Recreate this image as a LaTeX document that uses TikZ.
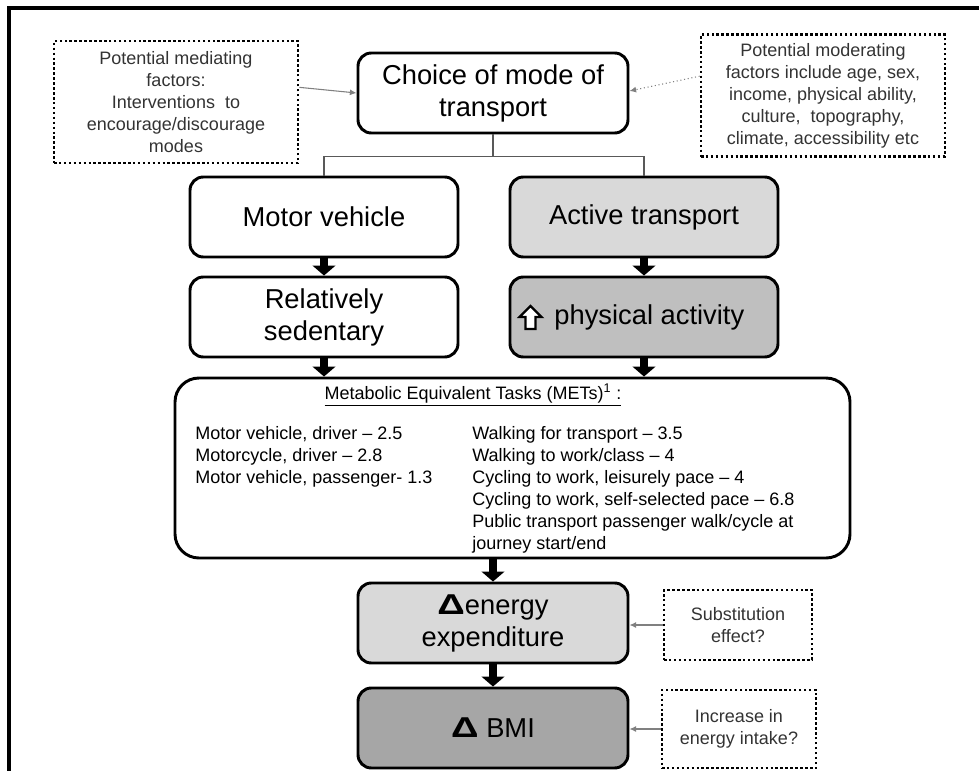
\documentclass[tikz,border=0pt]{standalone}
\usepackage{fontspec}
\setmainfont{Liberation Sans}
\usetikzlibrary{arrows.meta,calc}
\definecolor{lightgrey}{HTML}{D9D9D9}
\definecolor{midgrey}{HTML}{BFBFBF}
\definecolor{darkgrey}{HTML}{A6A6A6}
\definecolor{linegrey}{HTML}{595959}
\newcommand{\bigtext}{\fontsize{20.5}{24}\selectfont}
\newcommand{\smalltext}{\fontsize{13.5}{16.5}\selectfont}
\newcommand{\deltri}{\scalebox{1.4}[1.05]{\bfseries Δ}}

\begin{document}
\begin{tikzpicture}[x=0.75pt, y=-0.75pt,
    box/.style={draw, line width=2.2pt, rounded corners=10pt, minimum width=201pt,
      minimum height=60pt, align=center, font=\bigtext, inner sep=2pt},
    note/.style={draw, line width=2pt, dash pattern=on 1.9pt off 1.8pt,
      minimum width=183pt, minimum height=91.5pt, align=center, font=\smalltext,
      text=black!80, inner sep=2pt},
    flow/.style={line width=5.5pt, -{Triangle[width=17pt,length=7.5pt]}},
    hint/.style={draw=black!50, line width=0.8pt, -{Latex[length=5pt,width=4.5pt]}},
    branch/.style={draw=linegrey, line width=0.8pt}]
    \useasboundingbox (0,0) rectangle (979,771);

    % Cadre
    \draw[line width=2.5pt] (979,8) -- (9,8) -- (9,771);

    % Choix du mode
    \node[box, minimum width=202.5pt] (choice) at (493,93) {Choice of mode of\\transport};
    \node[note] (med) at (176,102) {Potential mediating\\factors:\\Interventions\ \ to\\encourage/discourage\\modes};
    \node[note] (mod) at (823,95.5) {Potential moderating\\factors include age, sex,\\income, physical ability,\\culture,\ \ topography,\\climate, accessibility etc};
    \draw[hint] ([yshift=11pt]med.east) -- (choice.west);
    \draw[hint, dotted] ([yshift=14.5pt]mod.west) -- ([yshift=1.5pt]choice.east);

    % Deux branches
    \node[box] (motor) at (324,217) {Motor vehicle};
    \node[box, fill=lightgrey] (active) at (644,217) {Active transport};
    \draw[branch] (choice.south) -- ++(0,22) -| (motor.north);
    \draw[branch] (choice.south) -- ++(0,22) -| (active.north);

    \node[box] (sed) at (324,317) {Relatively\\sedentary};
    \node[box, fill=midgrey] (phys) at (644,317) {\hspace*{8pt}physical activity};
    \coordinate (upicon) at ([xshift=16.5pt]phys.west);
    \draw[line width=1.7pt, fill=white, line join=miter] ($(upicon)+(-5,12)$) -- ++(0,-12)
      -- ++(-6,0) -- ++(11,-11) -- ++(11,11) -- ++(-6,0) -- ++(0,12) -- cycle;
    \draw[flow] (motor.south) -- (sed.north);
    \draw[flow] (active.south) -- (phys.north);

    % METs
    \node[box, minimum width=506.25pt, minimum height=135pt, rounded corners=18pt] (mets) at (512.5,468) {};
    \draw[flow] (sed.south) -- (sed.south |- mets.north);
    \draw[flow] (phys.south) -- (phys.south |- mets.north);
    \node[font=\smalltext] (metshead) at (473,395) {\underline{Metabolic Equivalent Tasks (METs)\textsuperscript{1} :}};
    \node[font=\smalltext, align=left, anchor=north west, inner sep=0pt] (metsleft) at (195,426)
      {Motor vehicle, driver – 2.5\\Motorcycle, driver – 2.8\\Motor vehicle, passenger- 1.3};
    \node[font=\smalltext, align=left, anchor=north west, inner sep=0pt] (metsright) at (472,426)
      {Walking for transport – 3.5\\Walking to work/class – 4\\Cycling to work, leisurely pace – 4\\Cycling to work, self-selected pace – 6.8\\Public transport passenger walk/cycle at\\journey start/end};

    % Energie et IMC
    \node[box, fill=lightgrey, minimum width=202.5pt] (energy) at (493,623) {\deltri energy\\expenditure};
    \node[box, fill=darkgrey, minimum width=202.5pt] (bmi) at (493,728) {\deltri\ BMI};
    \draw[flow] (energy.north |- mets.south) -- (energy.north);
    \draw[flow] (energy.south) -- (bmi.north);
    \node[note, minimum width=111pt, minimum height=52.5pt] (subs) at (738,625) {Substitution\\effect?};
    \node[note, minimum width=115.5pt, minimum height=58.5pt] (inc) at (739,729) {Increase in\\energy intake?};
    \draw[hint] (subs.west) -- (subs.west -| energy.east);
    \draw[hint] (inc.west) -- (inc.west -| bmi.east);
\end{tikzpicture}
\end{document}
